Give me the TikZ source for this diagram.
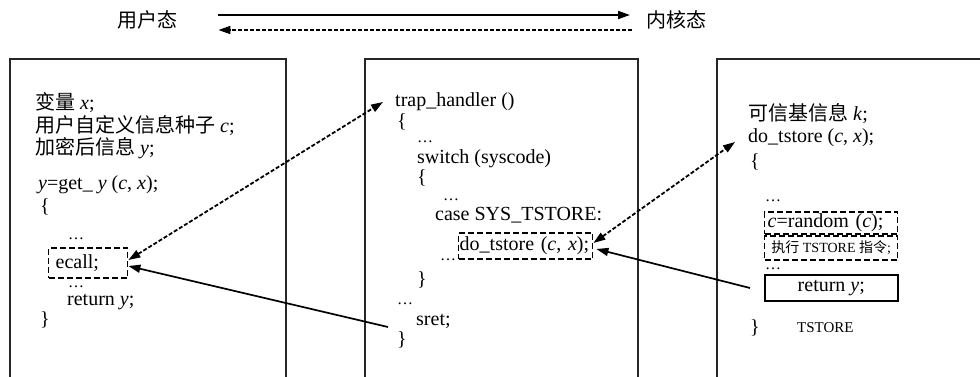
\documentclass[tikz,border=0pt]{standalone}
\usepackage{fontspec}
\setmainfont{Liberation Serif}
\newfontfamily\cjk{Noto Sans CJK SC}
\usetikzlibrary{arrows.meta}
\begin{document}
\begin{tikzpicture}[x=1pt,y=1pt,
  txt/.style={anchor=west, inner sep=0pt, font=\fontsize{20}{22}\selectfont},
  dots/.style={anchor=base west, inner sep=0pt, font=\fontsize{16}{18}\selectfont},
  small/.style={anchor=west, inner sep=0pt, font=\fontsize{15}{17}\selectfont},
  frame/.style={line width=1.8pt, draw=black!85},
  dbox/.style={draw, line width=1.4pt, dash pattern=on 6pt off 3pt, anchor=west, align=left},
  sbox/.style={draw, line width=1.6pt, anchor=west, align=center},
  sarrow/.style={line width=1.7pt, -{Triangle[length=12pt,width=8pt]}},
  darrow/.style={line width=1.8pt, dash pattern=on 4pt off 2pt, {Triangle[length=12pt,width=8pt]}-{Triangle[length=12pt,width=8pt]}},
  dsarrow/.style={line width=1.8pt, dash pattern=on 4pt off 2pt, -{Triangle[length=12pt,width=8pt]}},
]
\useasboundingbox (0,0) rectangle (980,-376);

% top legend
\node[txt] (user) at (117,-20) {\cjk 用户态};
\node[txt] (kern) at (646,-20) {\cjk 内核态};
\draw[sarrow] ([shift={(41,5)}]user.east) -- ([shift={(-16,5)}]kern.west);
\draw[dsarrow] ([shift={(-14,-10)}]kern.west) -- ([shift={(41,-10)}]user.east);

% frames
\draw[frame] (10,-380) -- (10,-59) -- (286,-59) -- (286,-380);
\draw[frame] (365,-380) -- (365,-59) -- (638,-59) -- (638,-380);
\draw[frame] (717,-380) -- (717,-59) -- (982,-59);

% left box
\node[txt] (lvar) at (35,-103) {{\cjk 变量} \textit{x};};
\node[txt] (lseed) at (35,-126) {{\cjk 用户自定义信息种子} \textit{c};};
\node[txt] (lenc) at (35,-148) {{\cjk 加密后信息} \textit{y};};
\node[txt] (lget) at (38,-185) {\textit{y}=get\_ \textit{y} (\textit{c}, \textit{x});};
\node[txt] (lb1) at (40,-207) {\{};
\node[dots] (ld1) at (68,-239) {\smash{\ldots}};
\node[dbox, font=\fontsize{20}{22}\selectfont, inner xsep=7pt, inner ysep=0pt, text width=65pt, minimum height=30pt] (ecall) at (48,-263) {ecall;};
\node[dots] (ld2) at (68,-287) {\smash{\ldots}};
\node[txt] (lret) at (67,-302) {return \textit{y};};
\node[txt] (lb2) at (40,-320) {\}};

% middle box
\node[txt] (trap) at (395,-102) {trap\_handler ()};
\node[txt] (mb1) at (397,-122) {\{};
\node[dots] (md1) at (417,-142) {\smash{\ldots}};
\node[txt] (msw) at (417,-159) {switch (syscode)};
\node[txt] (mb2) at (417,-178) {\{};
\node[dots] (md2) at (443,-200) {\smash{\ldots}};
\node[txt] (mcase) at (435,-215) {case SYS\_TSTORE:};
\node[dbox, font=\fontsize{20}{22}\selectfont, inner xsep=1pt, inner ysep=0pt, text width=132pt, minimum height=26pt] (mdo) at (458,-246) {do\_tstore (\textit{c}, \textit{x});};
\node[dots] (md3) at (440,-260) {\smash{\ldots}};
\node[txt] (mb3) at (417,-280) {\}};
\node[dots] (md4) at (397,-304) {\smash{\ldots}};
\node[txt] (sret) at (416,-321) {sret;};
\node[txt] (mb4) at (397,-340) {\}};

% right box
\node[txt] (rk) at (748,-114) {{\cjk 可信基信息} \textit{k};};
\node[txt] (rdo) at (748,-138) {do\_tstore (\textit{c}, \textit{x});};
\node[txt] (rb1) at (750,-162) {\{};
\node[dots] (rd1) at (765,-201) {\smash{\ldots}};
\node[dbox, font=\fontsize{20}{22}\selectfont, inner xsep=3pt, inner ysep=0pt, text width=127pt, minimum height=22pt] (rrand) at (764,-223) {\textit{c}=random (\textit{c});};
\node[dbox, font=\fontsize{14}{16}\selectfont, inner xsep=2pt, inner ysep=0pt, minimum width=133pt, minimum height=24pt] (rexec) at (764,-248) {{\cjk 执行} TSTORE {\cjk 指令};};
\node[dots] (rd2) at (765,-269) {\smash{\ldots}};
\node[sbox, font=\fontsize{20}{22}\selectfont, inner xsep=0pt, inner ysep=0pt, minimum width=133pt, minimum height=26pt] (rret) at (764,-288) {return \textit{y};};
\node[txt] (rb2) at (750,-328) {\}};
\node[small] (rts) at (797,-328) {TSTORE};

% connectors
\draw[darrow] ([yshift=3pt]ecall.east) -- ([xshift=-12pt]trap.west);
\draw[sarrow] ([shift={(-28,-6)}]sret.west) -- ([yshift=-3pt]ecall.east);
\draw[darrow] ([yshift=3pt]mdo.east) -- ([shift={(-13,-4)}]rdo.west);
\draw[sarrow] ([xshift=-14pt]rret.west) -- ([shift={(3,-3)}]mdo.east);
\end{tikzpicture}
\end{document}
